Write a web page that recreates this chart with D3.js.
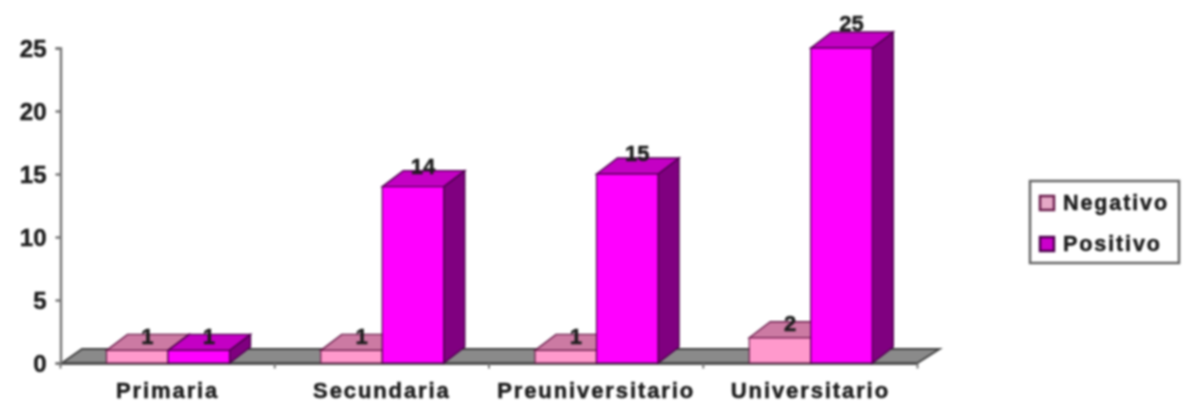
<!DOCTYPE html>
<html><head><meta charset="utf-8">
<script src="https://cdn.jsdelivr.net/npm/d3@7"></script>
<style>html,body{margin:0;background:#fff}svg{display:block}
text{font-family:"Liberation Sans",Arial,sans-serif;font-weight:bold;fill:#1c1c1c;stroke:#1c1c1c;stroke-width:0.5px}</style></head>
<body><svg id="c" width="1186" height="402"></svg>
<script>
const categories=["Primaria","Secundaria","Preuniversitario","Universitario"];
const seriesNames=["Negativo","Positivo"];
const negativo=[1,1,1,2];
const positivo=[1,14,15,25];
const yTicks=[0,5,10,15,20,25];
const colors={Negativo:{front:"#ff99cc",top:"#cc7aa3",side:"#80496a",line:"#6b1f4d"},
              Positivo:{front:"#ff00ff",top:"#c400c4",side:"#800080",line:"#4d004d"}};
const dx=21,dy=-16;
const svg=d3.select("#c").append("g").style("filter","blur(0.8px)");
const x=d3.scaleBand().domain(categories).range([60.5,917.5]);
const inner=d3.scaleBand().domain(seriesNames).range([46,169]);
const y=d3.scaleLinear().domain([0,25]).range([363,48]);
const labelY=d3.scaleLinear().domain([0,25]).range([357,31]);
const poly=p=>"M"+p.map(d=>d.join(",")).join("L")+"Z";

// floor
svg.append("path").attr("d",poly([[62,y(0)],[x.range()[1],y(0)],[x.range()[1]+22,y(0)-14],[82,y(0)-14]]))
  .attr("fill","#8a8a8a").attr("stroke","#444").attr("stroke-width",2);

// axes
const axY=svg.append("g").attr("transform","translate(60.5,0)")
  .call(d3.axisLeft(y).tickValues(yTicks).tickSize(5).tickPadding(9));
const axX=svg.append("g").attr("transform","translate(0,363.5)")
  .call(d3.axisBottom(x).tickSize(0).tickPadding(19));
axY.selectAll("path,line").attr("stroke","#777").attr("stroke-width",2.5);
axX.selectAll("path").attr("stroke","#555").attr("stroke-width",2);
axY.selectAll("text").style("font-size","24px").attr("dy","0.36em");
axX.selectAll("text").style("font-size","22px").style("letter-spacing","1.9px");
axX.selectAll(".tx").data(x.domain().concat("end")).enter().append("line")
  .attr("x1",(d,i)=>x.range()[0]+i*x.step()).attr("x2",(d,i)=>x.range()[0]+i*x.step())
  .attr("y1",0).attr("y2",5).attr("stroke","#777").attr("stroke-width",2);

// bars
const rows=categories.flatMap((c,i)=>[
  {c,s:"Negativo",v:negativo[i]},{c,s:"Positivo",v:positivo[i]}]);
const bars=svg.selectAll(".bar").data(rows).enter().append("g").attr("class","bar");
const X0=d=>x(d.c)+inner(d.s), X1=d=>X0(d)+inner.bandwidth();
bars.append("path").attr("d",d=>poly([[X1(d),y(d.v)],[X1(d)+dx,y(d.v)+dy],[X1(d)+dx,y(0)+dy],[X1(d),y(0)]]))
  .attr("fill",d=>colors[d.s].side).attr("stroke",d=>colors[d.s].line).attr("stroke-width",1.4);
bars.append("path").attr("d",d=>poly([[X0(d),y(d.v)],[X1(d),y(d.v)],[X1(d)+dx,y(d.v)+dy],[X0(d)+dx,y(d.v)+dy]]))
  .attr("fill",d=>colors[d.s].top).attr("stroke",d=>colors[d.s].line).attr("stroke-width",1.4);
bars.append("rect").attr("x",X0).attr("y",d=>y(d.v)).attr("width",inner.bandwidth()).attr("height",d=>y(0)-y(d.v))
  .attr("fill",d=>colors[d.s].front).attr("stroke",d=>colors[d.s].line).attr("stroke-width",1.2);
bars.append("text").attr("x",d=>(X0(d)+X1(d))/2+10).attr("y",d=>labelY(d.v))
  .attr("text-anchor","middle").style("font-size","22px").text(d=>d.v);

// legend
const lg=svg.append("g");
lg.append("rect").attr("x",1030).attr("y",181).attr("width",149).attr("height",82)
  .attr("fill","#fff").attr("stroke","#666").attr("stroke-width",2.5);
const ly=d3.scalePoint().domain(seriesNames).range([203,244]);
const li=lg.selectAll(".li").data(seriesNames).enter().append("g").attr("transform",d=>`translate(0,${ly(d)})`);
li.append("rect").attr("x",1040).attr("y",-7).attr("width",14).attr("height",14)
  .attr("fill",d=>d==="Negativo"?"#e5a8c6":"#cc00cc").attr("stroke",d=>colors[d].line).attr("stroke-width",2.5);
li.append("text").attr("x",1063).attr("y",7).style("font-size","21.5px").style("letter-spacing","1.9px").text(d=>d);
</script></body></html>
